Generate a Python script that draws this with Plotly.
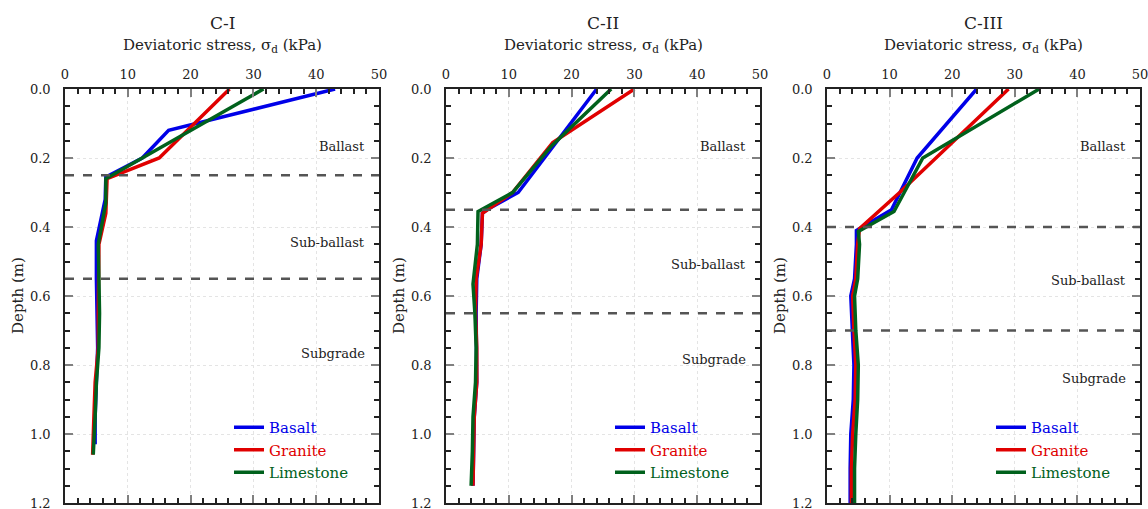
import plotly.graph_objects as go

# ---------------- data ----------------
panels = ["C-I", "C-II", "C-III"]
materials = ["Basalt", "Granite", "Limestone"]

# C-I
basalt_1_depth = [0, 0.12, 0.2, 0.255, 0.32, 0.44, 0.55, 0.65, 0.75, 0.85, 0.95, 1.03]
basalt_1_stress = [43.0, 16.5, 12.3, 6.5, 6.4, 5.0, 5.0, 5.1, 5.2, 5.0, 4.8, 4.8]
granite_1_depth = [0, 0.2, 0.26, 0.36, 0.45, 0.55, 0.65, 0.75, 0.85, 0.95, 1.06]
granite_1_stress = [26.2, 15.0, 6.7, 6.5, 5.4, 5.3, 5.3, 5.3, 4.8, 4.6, 4.4]
limestone_1_depth = [0, 0.26, 0.33, 0.45, 0.55, 0.65, 0.75, 0.85, 0.95, 1.06]
limestone_1_stress = [31.6, 6.5, 6.5, 5.3, 5.4, 5.5, 5.4, 5.0, 4.8, 4.5]

# C-II
basalt_2_depth = [0, 0.3, 0.35, 0.36, 0.45, 0.55, 0.65, 0.75, 0.85, 0.95, 1.05, 1.15]
basalt_2_stress = [24.0, 11.5, 6.5, 5.8, 5.6, 4.9, 4.8, 4.9, 4.9, 4.5, 4.4, 4.3]
granite_2_depth = [0, 0.155, 0.30, 0.36, 0.45, 0.55, 0.65, 0.75, 0.85, 0.95, 1.05, 1.15]
granite_2_stress = [30.0, 17.0, 10.6, 5.8, 5.6, 4.8, 4.7, 4.9, 4.9, 4.5, 4.4, 4.3]
limestone_2_depth = [0, 0.165, 0.30, 0.355, 0.45, 0.565, 0.65, 0.75, 0.85, 0.95, 1.05, 1.15]
limestone_2_stress = [26.3, 16.8, 10.6, 5.1, 5.0, 4.3, 4.6, 4.8, 4.7, 4.3, 4.2, 4.0]

# C-III
basalt_3_depth = [0, 0.2, 0.35, 0.41, 0.45, 0.55, 0.6, 0.7, 0.8, 0.9, 1.0, 1.1, 1.2]
basalt_3_stress = [23.9, 14.4, 10.3, 4.7, 4.7, 4.4, 3.8, 4.1, 4.3, 4.2, 3.8, 3.7, 3.7]
granite_3_depth = [0, 0.3, 0.405, 0.45, 0.55, 0.6, 0.7, 0.8, 0.9, 1.0, 1.1, 1.2]
granite_3_stress = [29.0, 11.6, 5.2, 4.9, 4.6, 4.1, 4.3, 4.6, 4.5, 4.1, 3.9, 3.9]
limestone_3_depth = [0, 0.2, 0.355, 0.413, 0.45, 0.55, 0.6, 0.7, 0.8, 0.9, 1.0, 1.1, 1.2]
limestone_3_stress = [33.9, 15.3, 10.7, 5.0, 5.2, 4.9, 4.4, 4.6, 5.0, 4.9, 4.6, 4.4, 4.4]

# layer boundaries (m)
boundaries_1 = [0.25, 0.55]
boundaries_2 = [0.35, 0.65]
boundaries_3 = [0.40, 0.70]

layer_names = ["Ballast", "Sub-ballast", "Subgrade"]
layer_label_depth_1 = [0.166, 0.446, 0.768]
layer_label_depth_2 = [0.166, 0.509, 0.783]
layer_label_depth_3 = [0.166, 0.555, 0.838]

x_ticks = [0, 10, 20, 30, 40, 50]
y_ticks = [0.0, 0.2, 0.4, 0.6, 0.8, 1.0, 1.2]

# ---------------- styling ----------------
W, H = 1148, 509
colors = {"Basalt": "#0000e8", "Granite": "#e00000", "Limestone": "#00611c"}
FONT = "DejaVu Serif"

data = [
    {"Basalt": (basalt_1_stress, basalt_1_depth),
     "Granite": (granite_1_stress, granite_1_depth),
     "Limestone": (limestone_1_stress, limestone_1_depth)},
    {"Basalt": (basalt_2_stress, basalt_2_depth),
     "Granite": (granite_2_stress, granite_2_depth),
     "Limestone": (limestone_2_stress, limestone_2_depth)},
    {"Basalt": (basalt_3_stress, basalt_3_depth),
     "Granite": (granite_3_stress, granite_3_depth),
     "Limestone": (limestone_3_stress, limestone_3_depth)},
]
boundaries = [boundaries_1, boundaries_2, boundaries_3]
label_depths = [layer_label_depth_1, layer_label_depth_2, layer_label_depth_3]

px_domains = [(65, 379), (446, 760), (827, 1140)]
T, B = 89, 6
PH = H - T - B

def py(p):  # pixel y -> paper y
    return 1 - (p - T) / PH

fig = go.Figure()
annotations = []
shapes = []

for i in range(3):
    ax = "" if i == 0 else str(i + 1)
    xa, ya = "x" + ax, "y" + ax
    leg = "legend" if i == 0 else "legend" + str(i + 1)
    for m in materials:
        xs, ys = data[i][m]
        fig.add_trace(go.Scatter(
            x=xs, y=ys, mode="lines",
            line=dict(color=colors[m], width=3.5),
            name=f"<span style='color:{colors[m]}'>{m}</span>",
            xaxis=xa, yaxis=ya, legend=leg, showlegend=True,
        ))
    x0, x1 = px_domains[i]
    dom = [x0 / W, x1 / W]
    axis_common = dict(
        showline=True, linecolor="#222", linewidth=1.5, mirror="allticks",
        ticks="inside", ticklen=8, tickcolor="#808080", tickwidth=1.5,
        showgrid=True, gridcolor="#e4e4e4", griddash="dot", gridwidth=1,
        zeroline=False, ticklabeloverflow="allow",
        tickfont=dict(family=FONT, size=13, color="#222"),
    )
    fig.layout["xaxis" + ax] = dict(
        axis_common, domain=dom, range=[0, 50], side="top",
        tickvals=x_ticks, anchor=ya,
        minor=dict(dtick=2, ticks="inside", ticklen=5, tickcolor="#222", showgrid=False),
        ticklabelstandoff=3,
    )
    fig.layout["yaxis" + ax] = dict(
        axis_common, domain=[0, 1], range=[1.2, 0], anchor=xa,
        tickvals=y_ticks, tickformat=".1f",
        minor=dict(dtick=0.05, ticks="inside", ticklen=5, tickcolor="#222", showgrid=False),
        ticklabelstandoff=10,
    )
    # boundary lines
    for b in boundaries[i]:
        shapes.append(dict(type="line", xref=xa, yref=ya, x0=0, x1=50, y0=b, y1=b,
                           line=dict(color="#555555", width=2.5, dash="dash"), layer="above"))
    # layer labels
    for name, d in zip(layer_names, label_depths[i]):
        annotations.append(dict(text=name, xref=xa, yref=ya, x=48.1, y=d,
                                xanchor="right", yanchor="middle", showarrow=False,
                                font=dict(family=FONT, size=13, color="#222")))
    cx = (x0 + x1) / 2 / W
    annotations.append(dict(text=panels[i], xref="paper", yref="paper", x=cx, y=py(23),
                            xanchor="center", yanchor="middle", showarrow=False,
                            font=dict(family=FONT, size=17, color="#222")))
    annotations.append(dict(text="Deviatoric stress, σ<sub>d</sub> (kPa)", xref="paper", yref="paper",
                            x=cx, y=py(46), xanchor="center", yanchor="middle", showarrow=False,
                            font=dict(family=FONT, size=15, color="#222")))
    annotations.append(dict(text="Depth (m)", xref="paper", yref="paper", x=(x0 - 47) / W, y=0.5,
                            xanchor="center", yanchor="middle", textangle=-90, showarrow=False,
                            font=dict(family=FONT, size=15, color="#222")))
    fig.layout[leg] = dict(
        x=(x0 + 164) / W, y=py(411), xanchor="left", yanchor="top",
        bgcolor="rgba(0,0,0,0)", borderwidth=0,
        font=dict(family=FONT, size=15), tracegroupgap=0, traceorder="normal",
    )

fig.update_layout(
    width=W, height=H,
    margin=dict(l=0, r=0, t=T, b=B, autoexpand=False),
    paper_bgcolor="white", plot_bgcolor="white",
    annotations=annotations, shapes=shapes,
    font=dict(family=FONT, color="#222"),
)

fig.write_html("out.html", config={"displayModeBar": False},
               post_script="document.body.style.margin='0';document.body.style.padding='0';")
